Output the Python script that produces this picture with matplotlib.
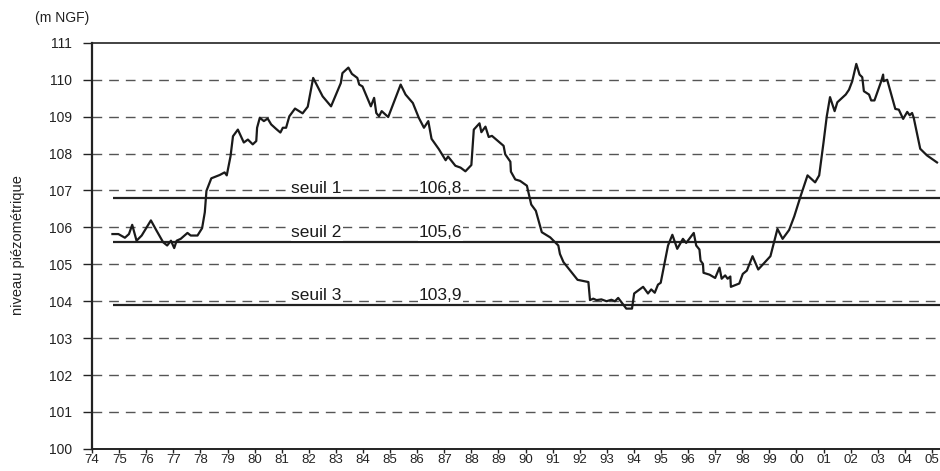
import numpy as np
import matplotlib
matplotlib.use("Agg")
import matplotlib.pyplot as plt

plt.rcParams['font.family'] = ['Liberation Sans', 'DejaVu Sans']

# niveau piezometrique (m NGF)
annees = [
    1974.75, 1974.97, 1975.21, 1975.36, 1975.48, 1975.64, 1975.83, 1976.17,
    1976.38, 1976.62, 1976.77, 1976.91, 1977.03, 1977.12, 1977.27, 1977.52,
    1977.64, 1977.89, 1978.06, 1978.16, 1978.22, 1978.40, 1978.71, 1978.89,
    1978.97, 1979.11, 1979.20, 1979.38, 1979.60, 1979.75, 1979.93, 1980.06,
    1980.09, 1980.19, 1980.34, 1980.48, 1980.61, 1980.79, 1980.95, 1981.04,
    1981.16, 1981.28, 1981.49, 1981.77, 1981.96, 1982.16, 1982.51, 1982.82,
    1983.18, 1983.24, 1983.46, 1983.59, 1983.79, 1983.86, 1983.98, 1984.29,
    1984.41, 1984.49, 1984.59, 1984.69, 1984.93, 1985.39, 1985.57, 1985.84,
    1986.06, 1986.25, 1986.41, 1986.53, 1986.80, 1987.05, 1987.14, 1987.41,
    1987.60, 1987.78, 1988.00, 1988.09, 1988.30, 1988.37, 1988.52, 1988.64,
    1988.76, 1989.19, 1989.25, 1989.44, 1989.46, 1989.62, 1989.80, 1990.05,
    1990.21, 1990.38, 1990.60, 1990.91, 1991.21, 1991.27, 1991.40, 1991.92,
    1992.32, 1992.38, 1992.50, 1992.62, 1992.80, 1992.99, 1993.17, 1993.30,
    1993.42, 1993.72, 1993.93, 1994.01, 1994.34, 1994.52, 1994.64, 1994.77,
    1994.89, 1994.99, 1995.14, 1995.26, 1995.42, 1995.60, 1995.81, 1995.93,
    1996.21, 1996.30, 1996.42, 1996.46, 1996.55, 1996.57, 1996.79, 1997.00,
    1997.16, 1997.24, 1997.37, 1997.46, 1997.56, 1997.58, 1997.89, 1998.02,
    1998.17, 1998.38, 1998.59, 1999.04, 1999.30, 1999.49, 1999.73, 1999.92,
    2000.16, 2000.41, 2000.69, 2000.84, 2001.00, 2001.12, 2001.24, 2001.41,
    2001.51, 2001.82, 2001.94, 2002.06, 2002.21, 2002.33, 2002.43, 2002.49,
    2002.68, 2002.76, 2002.88, 2003.13, 2003.20, 2003.22, 2003.35, 2003.65,
    2003.78, 2003.94, 2004.09, 2004.18, 2004.27, 2004.33, 2004.57, 2004.82,
    2005.19]
niveau = [
    105.82, 105.82, 105.72, 105.82, 106.07, 105.64, 105.78, 106.19,
    105.91, 105.60, 105.51, 105.64, 105.44, 105.64, 105.69, 105.85,
    105.78, 105.78, 105.98, 106.41, 106.99, 107.33, 107.42, 107.49,
    107.41, 107.93, 108.47, 108.65, 108.30, 108.38, 108.25, 108.34,
    108.70, 108.97, 108.88, 108.95, 108.79, 108.67, 108.57, 108.70,
    108.70, 109.01, 109.22, 109.09, 109.27, 110.05, 109.55, 109.28,
    109.91, 110.18, 110.33, 110.16, 110.05, 109.87, 109.82, 109.28,
    109.51, 109.10, 109.01, 109.15, 108.99, 109.87, 109.60, 109.37,
    108.97, 108.70, 108.88, 108.40, 108.12, 107.82, 107.92, 107.67,
    107.62, 107.52, 107.69, 108.65, 108.82, 108.58, 108.73, 108.45,
    108.48, 108.21, 107.98, 107.78, 107.51, 107.30, 107.26, 107.13,
    106.62, 106.45, 105.87, 105.73, 105.51, 105.28, 105.06, 104.58,
    104.52, 104.03, 104.07, 104.03, 104.05, 104.00, 104.04, 104.00,
    104.09, 103.80, 103.80, 104.21, 104.39, 104.21, 104.32, 104.23,
    104.45, 104.50, 105.06, 105.51, 105.80, 105.42, 105.69, 105.58,
    105.85, 105.51, 105.40, 105.10, 105.01, 104.77, 104.72, 104.63,
    104.91, 104.61, 104.70, 104.61, 104.67, 104.39, 104.48, 104.74,
    104.83, 105.22, 104.86, 105.22, 105.96, 105.69, 105.93, 106.30,
    106.86, 107.41, 107.22, 107.41, 108.30, 109.01, 109.53, 109.15,
    109.39, 109.60, 109.73, 109.96, 110.43, 110.14, 110.07, 109.69,
    109.60, 109.44, 109.44, 109.96, 110.14, 109.96, 110.00, 109.21,
    109.19, 108.94, 109.13, 109.04, 109.10, 108.97, 108.13, 107.95,
    107.76]

seuils = [106.8, 105.6, 103.9]
seuil_noms = ['seuil 1', 'seuil 2', 'seuil 3']
seuil_textes = ['106,8', '105,6', '103,9']

ans_ticks = list(range(1974, 2006))
ans_labels = ['%02d' % (a % 100) for a in ans_ticks]

fig = plt.figure(figsize=(9.4, 4.71), dpi=100)
ax = fig.add_axes([0.098, 0.047, 0.902, 0.862])

ax.set_xlim(1974, 2005.3)
ax.set_ylim(100, 111)

# grille pointillee
for v in range(101, 111):
    ax.axhline(v, color='#555555', lw=1.0, dashes=(7, 5), zorder=1)

# seuils
ax.hlines(seuils, 1974.77, 2005.3, color='#222222', lw=1.6, zorder=2)
for s, nom, txt in zip(seuils, seuil_noms, seuil_textes):
    ax.text(1981.36, s + 0.06, nom, fontsize=12.5, va='bottom', ha='left',
            color='#1a1a1a', zorder=3,
            bbox=dict(facecolor='white', edgecolor='none', pad=0.5))
    ax.text(1986.06, s + 0.06, txt, fontsize=12.5, va='bottom', ha='left',
            color='#1a1a1a', zorder=3,
            bbox=dict(facecolor='white', edgecolor='none', pad=0.5))

ax.plot(annees, niveau, color='#1a1a1a', lw=1.6, zorder=4)

ax.set_xticks(ans_ticks)
ax.set_xticklabels(ans_labels)
ax.set_yticks(range(100, 112))

ax.spines['right'].set_visible(False)
ax.spines['left'].set_linewidth(1.6)
ax.spines['bottom'].set_linewidth(1.4)
ax.spines['top'].set_linewidth(1.2)
for sp in ax.spines.values():
    sp.set_color('#222222')

ax.tick_params(axis='y', direction='out', length=6.5, width=1.0, pad=8,
               labelsize=10, colors='#222222')
ax.tick_params(axis='x', direction='out', length=3, width=1.0, pad=0.5,
               labelsize=9.5, colors='#222222')

fig.text(0.019, 0.48, 'niveau piézométrique', rotation=90, fontsize=10.5,
         ha='center', va='center', color='#222222')
fig.text(0.037, 0.962, '(m NGF)', fontsize=10, ha='left', va='center',
         color='#222222')

fig.savefig('out.png', dpi=100)
